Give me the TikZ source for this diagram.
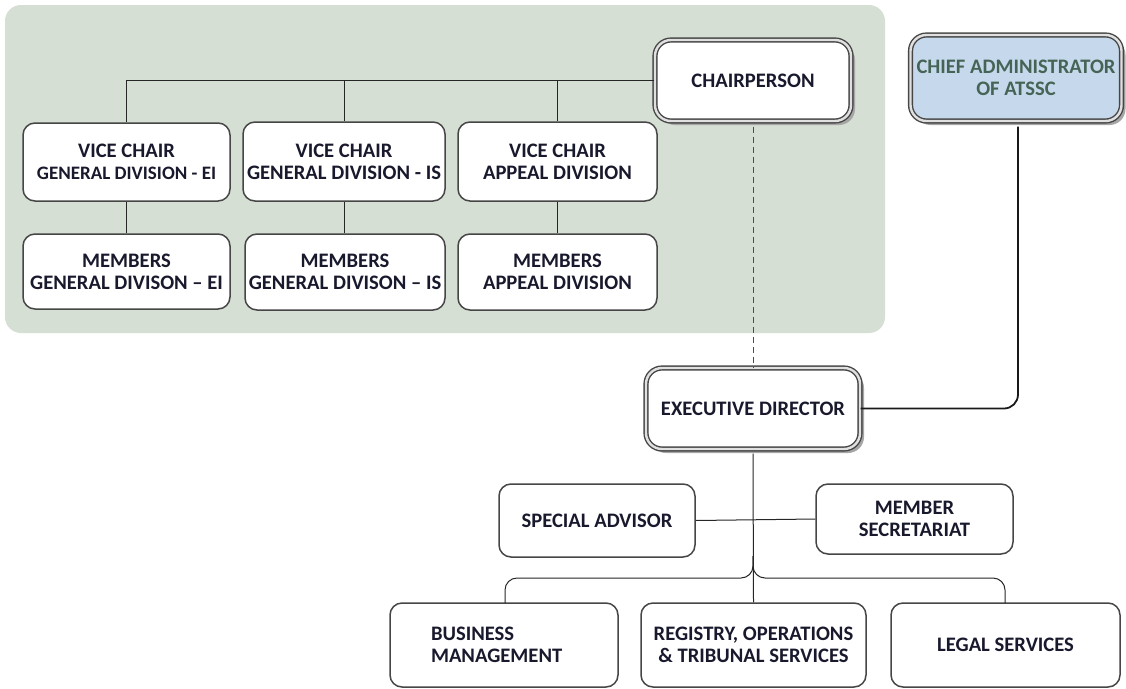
\documentclass[tikz,border=0pt]{standalone}
\usepackage{fontspec}
\setmainfont{Carlito}
\usetikzlibrary{shadows}
\definecolor{bgpanel}{RGB}{213,223,211}
\definecolor{txt}{RGB}{25,25,45}
\definecolor{chieffill}{RGB}{198,217,236}
\definecolor{chieftxt}{RGB}{70,100,85}
\definecolor{boxline}{RGB}{70,70,70}
\tikzset{
  unit/.style={draw=boxline, line width=1.5pt, rounded corners=12pt, fill=white,
    align=center, font=\bfseries\fontsize{20.6}{22}\selectfont, text=txt, inner sep=1pt},
  headbox/.style={draw=boxline, line width=1.4pt, double=white!88!black, double distance=2.4pt,
    rounded corners=16pt, fill=white, align=center, font=\bfseries\fontsize{20.6}{22}\selectfont,
    text=txt, drop shadow={shadow xshift=4pt, shadow yshift=-4pt, fill=gray!70, opacity=1}},
  conn/.style={draw=black!85, line width=1pt}
}
\begin{document}
\begin{tikzpicture}[x=1pt,y=-1pt]
\useasboundingbox (0,0) rectangle (1126,688);
\fill[bgpanel, rounded corners=16pt] (5,5) rectangle (885,333);

\node[headbox, minimum width=196pt, minimum height=81pt] (chair) at (753,80.5) {CHAIRPERSON};
\node[headbox, minimum width=211pt, minimum height=86pt, fill=chieffill, text=chieftxt] (chief) at (1016,78) {CHIEF ADMINISTRATOR\\OF ATSSC};
\node[headbox, minimum width=214pt, minimum height=81pt] (ed) at (753,408.5) {EXECUTIVE DIRECTOR};

\node[unit, minimum width=207pt, minimum height=78pt] (vc1) at (126.5,162) {VICE CHAIR\\{\fontsize{19}{22}\selectfont GENERAL DIVISION - EI}};
\node[unit, minimum width=202pt, minimum height=79pt] (vc2) at (344,161.5) {VICE CHAIR\\GENERAL DIVISION - IS};
\node[unit, minimum width=199pt, minimum height=79pt] (vc3) at (557.5,161.5) {VICE CHAIR\\APPEAL DIVISION};

\node[unit, minimum width=207pt, minimum height=75pt] (m1) at (126.5,271.5) {MEMBERS\\GENERAL DIVISON -- EI};
\node[unit, minimum width=200pt, minimum height=76pt] (m2) at (345,272) {MEMBERS\\GENERAL DIVISON -- IS};
\node[unit, minimum width=199pt, minimum height=76pt] (m3) at (557.5,272) {MEMBERS\\APPEAL DIVISION};

\node[unit, minimum width=196pt, minimum height=73pt] (sa) at (597,520.5) {SPECIAL ADVISOR};
\node[unit, minimum width=197pt, minimum height=70pt] (ms) at (914.5,519) {MEMBER\\SECRETARIAT};

\node[unit, minimum width=228pt, minimum height=84pt, text width=222pt, align=left] (bm) at (504,645) {\hspace*{38pt}BUSINESS\\\hspace*{38pt}MANAGEMENT};
\node[unit, minimum width=225pt, minimum height=84pt] (reg) at (753.5,645) {REGISTRY, OPERATIONS\\\& TRIBUNAL SERVICES};
\node[unit, minimum width=229pt, minimum height=84pt] (legal) at (1005.5,645) {LEGAL SERVICES};

% top tree
\draw[conn] (chair.west) -| (vc1.north);
\draw[conn] (vc2.north) -- (vc2.north |- chair.west);
\draw[conn] (vc3.north) -- (vc3.north |- chair.west);
\draw[conn] (vc1.south) -- (m1.north);
\draw[conn] (vc2.south) -- (vc2.south |- m2.north);
\draw[conn] (vc3.south) -- (m3.north);

% chair to executive director
\draw[conn, draw=black!70, dash pattern=on 6pt off 4pt] (chair.south) ++(0,5) -- (ed.north);

% chief administrator to executive director
\draw[line width=1.8pt, draw=black!90, rounded corners=14pt] (chief.south) ++(2,5) |- (ed.east);

% executive director down
\draw[conn] (ed.south) ++(0,4) -- (reg.north);
\draw[conn] (sa.east) -- (ms.west);
\coordinate (split) at (753,556);
\draw[conn, rounded corners=12pt] (split) -- (753,578) -- (505,578) -- (505,603);
\draw[conn, rounded corners=12pt] (split) -- (753,578) -- (1005,578) -- (1005,603);
\end{tikzpicture}
\end{document}
